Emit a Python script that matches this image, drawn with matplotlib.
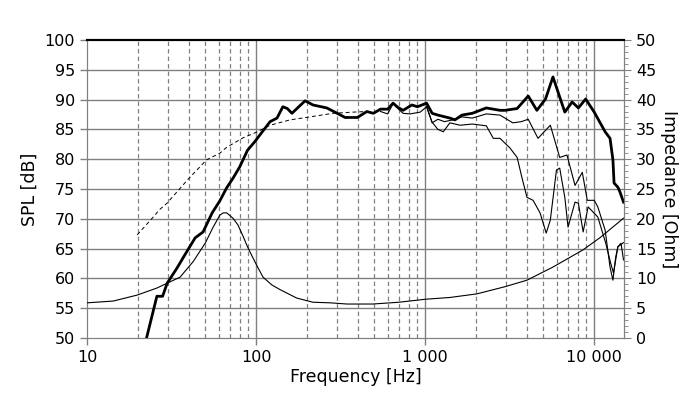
import matplotlib.pyplot as plt
from matplotlib.ticker import FixedLocator, FixedFormatter, NullLocator

# on-axis SPL (thick)
f_main = [22.5, 25.9, 28, 29.8, 34, 38, 43.6, 48.6, 55, 61, 67, 73, 80, 89, 98, 113, 121, 133,
          144, 153, 163, 182, 195, 217, 262, 302, 336, 397, 452, 494, 545, 600, 646, 690, 740,
          835, 900, 1020, 1100, 1190, 1400, 1500, 1650, 1900, 2300, 2770, 2960, 3500, 4070,
          4580, 5150, 5700, 6700, 7400, 8060, 8900, 10000, 11600, 12400, 12900, 13100, 13800,
          14200, 14900]
spl_main = [50, 57, 57, 59.2, 61.7, 64, 66.8, 67.8, 71, 73, 75.2, 76.8, 78.7, 81.5, 82.9, 85.2,
            86.3, 86.9, 88.8, 88.5, 87.7, 89, 89.8, 89.1, 88.6, 87.7, 87, 87, 88, 87.7, 88.4,
            88.4, 89.4, 88.7, 88.2, 89.1, 88.8, 89.4, 87.7, 87.4, 86.9, 86.6, 87.4, 87.7, 88.6,
            88.2, 88.2, 88.5, 90.6, 88.2, 90.1, 93.8, 87.9, 89.6, 88.6, 90.1, 87.9, 84.6, 83.5,
            79.9, 76, 75.3, 74.5, 72.8]

# off-axis SPL, upper thin curve
f_off1 = [545, 600, 646, 690, 740, 815, 935, 1020, 1100, 1190, 1300, 1460, 1650, 1900, 2300,
          2770, 3300, 3700, 4070, 4650, 5500, 6250, 6900, 7700, 8500, 9100, 10000, 10500,
          11600, 12400, 12900, 13400, 13800, 14400, 14900]
spl_off1 = [88.0, 87.6, 89.3, 88.5, 87.7, 87.6, 87.9, 88.8, 86.1, 86.7, 86.3, 86.6, 87.1, 86.9,
            87.6, 87.4, 86.1, 86.3, 86.7, 83.5, 85.7, 80.3, 80.7, 75.6, 77.8, 73.1, 73.1, 72,
            68.1, 61.9, 59.7, 63.6, 65.3, 65.9, 63.1]

# off-axis SPL, lower thin curve
f_off2 = [1020, 1100, 1190, 1280, 1400, 1610, 1900, 2300, 2530, 2770, 3170, 3500, 3730, 4000,
          4350, 4780, 5200, 5500, 5980, 6250, 6700, 7000, 7700, 8060, 8600, 9200, 10500, 11700,
          12500, 13000, 13800, 14900]
spl_off2 = [88.8, 86.2, 85.0, 84.6, 86.1, 85.7, 85.9, 85.6, 83.5, 83.5, 81.9, 80.3, 77, 73.6,
            73.1, 71, 67.6, 69.8, 78.2, 78.5, 73.6, 68.6, 72.8, 72.6, 67.8, 72, 70.3, 65.9, 62.6,
            60.9, 65.3, 66]

# simulated response (dashed)
f_dash = [19.8, 24.3, 27, 29.7, 39.5, 51, 61, 67, 84, 100, 121, 159, 208, 285, 375, 450]
spl_dash = [67.3, 70.1, 71.6, 72.6, 76.6, 79.9, 81, 82, 83.6, 84.5, 85.7, 86.6, 87.1, 87.7, 87.9, 88]

# impedance (right axis)
f_imp = [10, 14.3, 19.8, 26, 29.8, 35.5, 42.4, 50, 55.5, 61, 64, 67, 73, 78, 84, 89, 96, 103,
         110, 124, 139, 174, 217, 275, 345, 490, 700, 1000, 1400, 2020, 2960, 4000, 5700, 8600,
         10900, 14900]
z_imp = [5.9, 6.2, 7.2, 8.4, 9.2, 10.2, 12.8, 15.9, 18.5, 20.6, 21, 21, 20.1, 19, 17, 15.3, 13.4,
         11.7, 10.2, 8.9, 8.1, 6.7, 6.0, 5.9, 5.7, 5.7, 6.0, 6.5, 6.8, 7.4, 8.6, 9.7, 11.9, 14.8,
         16.9, 20.1]

x_ticks = [10, 100, 1000, 10000]
x_labels = ["10", "100", "1 000", "10 000"]
minor_lines = [m * d for d in (10, 100, 1000) for m in range(2, 10)]

grey = "#808080"
fs = 11.5

fig = plt.figure(figsize=(7, 3.99), dpi=100)
ax = fig.add_axes([87 / 700, 61 / 399, 537 / 700, 298 / 399])
ax.set_xscale("log")
ax.set_xlim(10, 15000)
ax.set_ylim(50, 100)

# grid
for y in range(55, 100, 5):
    ax.axhline(y, color=grey, lw=1, zorder=1)
for x in x_ticks[1:]:
    ax.axvline(x, color=grey, lw=1, zorder=1)
for x in minor_lines:
    if x < 15000:
        ax.axvline(x, color=grey, lw=0.9, ls=(0, (3.5, 2.5)), zorder=1)

ax.plot(f_dash, spl_dash, color="black", lw=0.7, ls=(0, (4, 3)), zorder=3)
ax.plot(f_off2, spl_off2, color="black", lw=0.8, zorder=3)
ax.plot(f_off1, spl_off1, color="black", lw=0.8, zorder=3)
ax.plot(f_main, spl_main, color="black", lw=2.0, zorder=4)

ax.xaxis.set_major_locator(FixedLocator(x_ticks))
ax.xaxis.set_major_formatter(FixedFormatter(x_labels))
ax.xaxis.set_minor_locator(NullLocator())
ax.set_yticks(range(50, 101, 5))
ax.tick_params(axis="both", colors=grey, labelcolor="black", labelsize=fs, length=5, width=1)
ax.set_xlabel("Frequency [Hz]", fontsize=12.5, labelpad=2)
ax.set_ylabel("SPL [dB]", fontsize=12.5, labelpad=4)

for s in ("left", "right", "bottom"):
    ax.spines[s].set_color(grey)
ax.spines["top"].set_color("black")
ax.spines["top"].set_linewidth(1.5)

ax2 = ax.twinx()
ax2.set_ylim(0, 50)
ax2.plot(f_imp, z_imp, color="black", lw=0.8, zorder=3)
ax2.set_yticks(range(0, 51, 5))
ax2.set_yticks(range(0, 51, 1), minor=True)
ax2.tick_params(axis="y", which="major", colors=grey, labelcolor="black", labelsize=fs, length=5)
ax2.tick_params(axis="y", which="minor", colors=grey, length=3)
ax2.set_ylabel("Impedance [Ohm]", fontsize=12.5, rotation=270, labelpad=16)
for s in ("left", "right", "bottom"):
    ax2.spines[s].set_color(grey)
ax2.spines["top"].set_color("black")
ax2.spines["top"].set_linewidth(1.5)

fig.savefig("out.png", dpi=100)
